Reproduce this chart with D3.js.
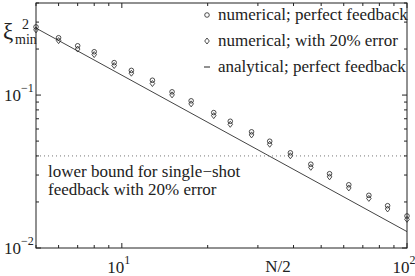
<!DOCTYPE html>
<html>
<head>
<meta charset="utf-8">
<script src="https://cdn.jsdelivr.net/npm/d3@7"></script>
<style>
  body { margin: 0; background: #fff; }
</style>
</head>
<body>
<svg id="chart" width="415" height="276"></svg>
<script>
// N/2 values of the simulated points
var halfN = [5, 6, 7, 8, 9.4, 10.8, 12.8, 15, 17.5, 21, 24, 28.5, 33, 39, 46, 53.5, 62.5, 73.5, 85.5, 100];
// numerical; perfect feedback (circles)
var perfect = [0.279, 0.237, 0.210, 0.192, 0.163, 0.145, 0.125, 0.105, 0.0917, 0.0768, 0.0674, 0.0575, 0.0499, 0.0419, 0.0353, 0.0306, 0.0259, 0.0221, 0.0189, 0.0162];
// numerical; with 20% error (diamonds)
var withError = [0.267, 0.227, 0.200, 0.184, 0.156, 0.139, 0.119, 0.1003, 0.0876, 0.0734, 0.0644, 0.0549, 0.0477, 0.0401, 0.0337, 0.0292, 0.0247, 0.0211, 0.0180, 0.0154];
// analytical; perfect feedback
var analyticX = [5, 100];
var analyticY = [0.274, 0.0128];
var lowerBound = 0.04;

var xTickLabels = [{v: 10, e: "1"}, {v: 100, e: "2"}];
var yTickLabels = [{v: 0.1, e: "\u22121"}, {v: 0.01, e: "\u22122"}];

var L = 36, R = 407, T = 3, B = 248;
var ink = "#222";
var serif = "Liberation Serif, DejaVu Serif, serif";

var svg = d3.select("#chart").style("font-family", serif);

var x = d3.scaleLog().domain([5, 100]).range([L, R]);
var y = d3.scaleLog().domain([0.01, 0.4]).range([B, T]);

function isMajor(v) { return Math.abs(Math.log10(v) - Math.round(Math.log10(v))) < 1e-9; }

// lower bound dotted line
svg.append("line")
  .attr("x1", L).attr("x2", R)
  .attr("y1", y(lowerBound)).attr("y2", y(lowerBound))
  .attr("stroke", "#777").attr("stroke-width", 1)
  .attr("stroke-dasharray", "1,3");

// analytical line
var line = d3.line()
  .x(function(d) { return x(d[0]); })
  .y(function(d) { return y(d[1]); });
svg.append("path")
  .datum(d3.zip(analyticX, analyticY))
  .attr("d", line)
  .attr("fill", "none")
  .attr("stroke", "#444")
  .attr("stroke-width", 1);

// markers
var diamond = function(cx, cy) {
  return "M" + cx + "," + (cy - 3) + "L" + (cx + 2.3) + "," + cy + "L" + cx + "," + (cy + 3) + "L" + (cx - 2.3) + "," + cy + "Z";
};
svg.append("g").selectAll("path")
  .data(d3.zip(halfN, withError))
  .enter().append("path")
  .attr("d", function(d) { return diamond(x(d[0]), y(d[1])); })
  .attr("fill", "none").attr("stroke", ink).attr("stroke-width", 0.8);

svg.append("g").selectAll("circle")
  .data(d3.zip(halfN, perfect))
  .enter().append("circle")
  .attr("cx", function(d) { return x(d[0]); })
  .attr("cy", function(d) { return y(d[1]); })
  .attr("r", 2.3)
  .attr("fill", "none").attr("stroke", ink).attr("stroke-width", 0.8);

// frame
svg.append("rect")
  .attr("x", L).attr("y", T).attr("width", R - L).attr("height", B - T)
  .attr("fill", "none").attr("stroke", ink).attr("stroke-width", 1);

// ticks, inward on all four sides
var ticks = svg.append("g").attr("stroke", ink).attr("stroke-width", 1);
x.ticks().forEach(function(v) {
  var len = isMajor(v) ? 5 : 3;
  ticks.append("line").attr("x1", x(v)).attr("x2", x(v)).attr("y1", B).attr("y2", B - len);
  ticks.append("line").attr("x1", x(v)).attr("x2", x(v)).attr("y1", T).attr("y2", T + len);
});
y.ticks().forEach(function(v) {
  var len = isMajor(v) ? 5 : 3;
  ticks.append("line").attr("y1", y(v)).attr("y2", y(v)).attr("x1", L).attr("x2", L + len);
  ticks.append("line").attr("y1", y(v)).attr("y2", y(v)).attr("x1", R).attr("x2", R - len);
});

// tick labels
xTickLabels.forEach(function(d) {
  var t = svg.append("text").attr("x", x(d.v) - 3).attr("y", 273)
    .attr("text-anchor", "middle").attr("font-size", 17).attr("fill", ink);
  t.append("tspan").text("10");
  t.append("tspan").attr("dy", -9).attr("font-size", 12).text(d.e);
});
yTickLabels.forEach(function(d) {
  var t = svg.append("text").attr("x", 4).attr("y", y(d.v) + 6)
    .attr("font-size", 17).attr("fill", ink);
  t.append("tspan").text("10");
  t.append("tspan").attr("dy", -9).attr("font-size", 12).text(d.e);
});

// axis titles
svg.append("text").attr("x", 278).attr("y", 272)
  .attr("text-anchor", "middle").attr("font-size", 17).attr("fill", ink).text("N/2");

var yl = svg.append("text").attr("x", 3).attr("y", 39).attr("fill", ink);
yl.append("tspan").attr("font-size", 23).text("\u03be");
yl.append("tspan").attr("x", 22).attr("y", 29).attr("font-size", 14).text("2");
yl.append("tspan").attr("x", 15).attr("y", 44).attr("font-size", 14).text("min");

// annotation
svg.append("text").attr("x", 48).attr("y", 177).attr("font-size", 17).attr("fill", ink)
  .text("lower bound for single\u2212shot");
svg.append("text").attr("x", 48).attr("y", 195).attr("font-size", 17).attr("fill", ink)
  .text("feedback with 20% error");

// legend
var legend = svg.append("g");
var rows = [
  {label: "numerical; perfect feedback", y: 15, kind: "circle"},
  {label: "numerical; with 20% error", y: 41, kind: "diamond"},
  {label: "analytical; perfect feedback", y: 67, kind: "line"}
];
rows.forEach(function(r) {
  if (r.kind === "circle") {
    legend.append("circle").attr("cx", 207).attr("cy", r.y).attr("r", 2.3)
      .attr("fill", "none").attr("stroke", ink).attr("stroke-width", 0.8);
  } else if (r.kind === "diamond") {
    legend.append("path").attr("d", diamond(207, r.y))
      .attr("fill", "none").attr("stroke", ink).attr("stroke-width", 0.8);
  } else {
    legend.append("line").attr("x1", 204).attr("x2", 210).attr("y1", r.y).attr("y2", r.y)
      .attr("stroke", ink).attr("stroke-width", 1);
  }
  legend.append("text").attr("x", 218).attr("y", r.y + 5)
    .attr("font-size", 17).attr("fill", ink).text(r.label);
});
</script>
</body>
</html>
